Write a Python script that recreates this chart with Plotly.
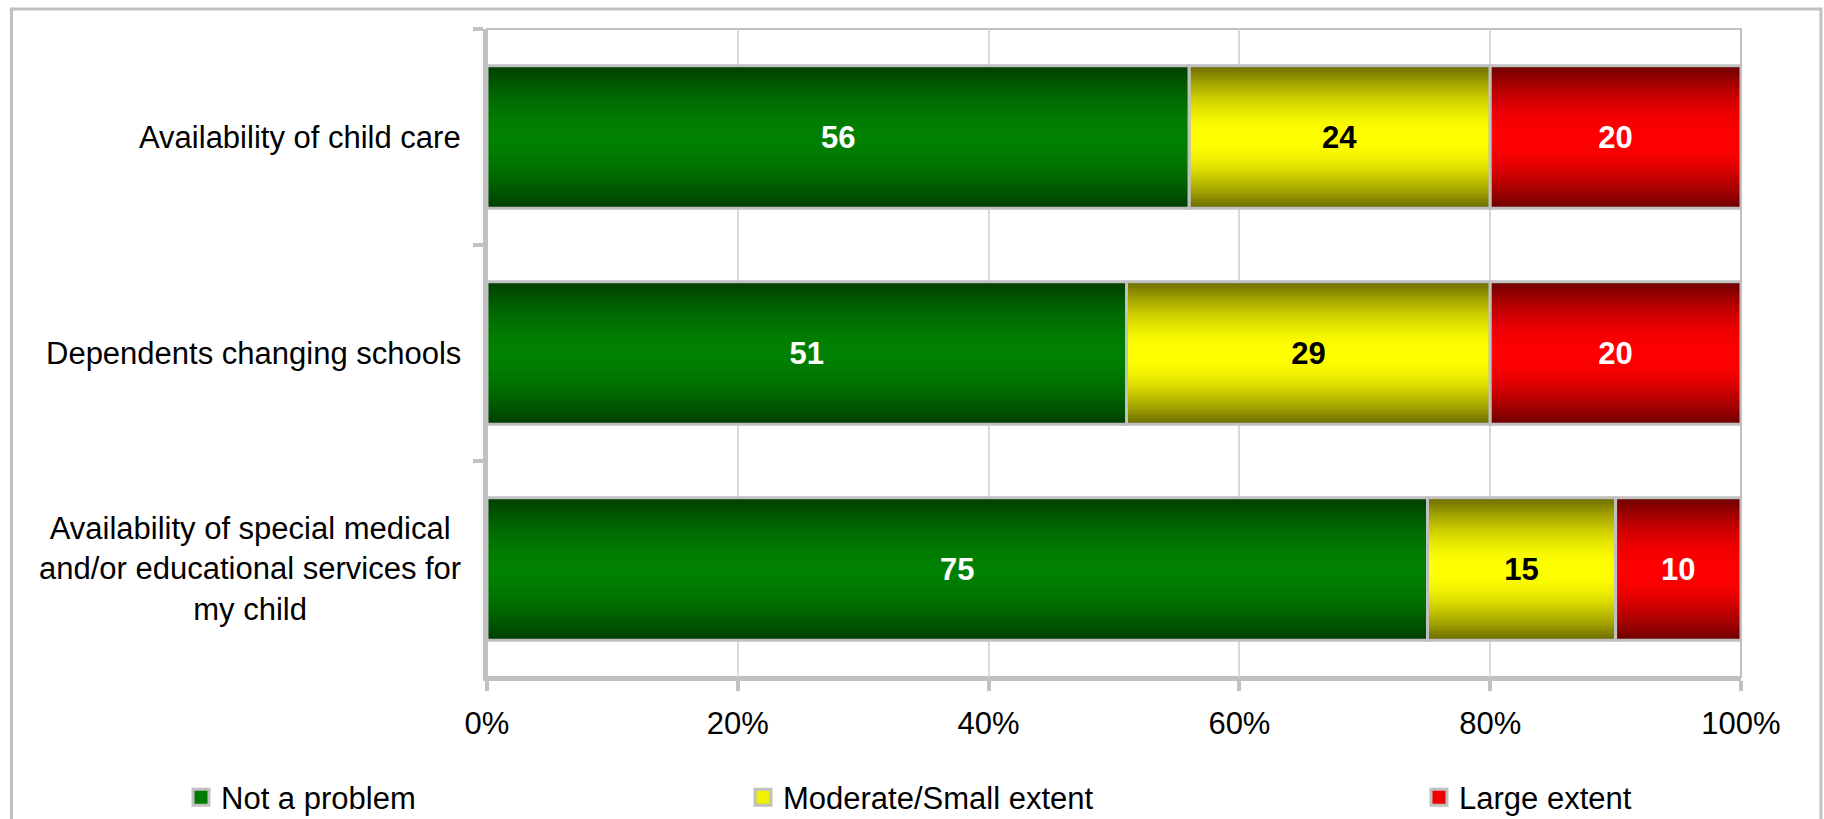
import math
import plotly.graph_objects as go

# ---- data ----
categories = [
    "Availability of child care",
    "Dependents changing schools",
    "Availability of special medical and/or educational services for my child",
]
category_labels = [
    "Availability of child care",
    "Dependents changing schools",
    "Availability of special medical<br>and/or educational services for<br>my child",
]
series_names = ["Not a problem", "Moderate/Small extent", "Large extent"]
not_a_problem = [56, 51, 75]
moderate_small = [24, 29, 15]
large_extent = [20, 20, 10]
x_ticks = [0, 20, 40, 60, 80, 100]
x_tick_labels = ["0%", "20%", "40%", "60%", "80%", "100%"]

# ---- styles ----
W, H = 1824, 819
FONT = "Liberation Sans, Arial, sans-serif"
GREY = "#c0c0c0"
FS = 31
bar_width = 0.66
n_layers = 24

styles = [
    # edge rgb, center rgb, label color, legend color
    ((0, 62, 0), (0, 128, 0), "white", "#007a00"),
    ((107, 107, 0), (255, 255, 0), "black", "#f0f000"),
    ((107, 0, 0), (255, 0, 0), "white", "#f00000"),
]
series_values = [not_a_problem, moderate_small, large_extent]
legend_ids = ["legend", "legend2", "legend3"]

fig = go.Figure()
bases = [0] * len(categories)
for name, vals, (edge, center, tcol, lcol), lid in zip(series_names, series_values, styles, legend_ids):
    for k in range(n_layers):
        t = (k + 0.5) / n_layers
        f = math.sin(t * math.pi / 2)
        col = "rgb(%d,%d,%d)" % tuple(round(e + (c - e) * f) for e, c in zip(edge, center))
        fig.add_trace(go.Bar(
            y=categories, x=vals, base=bases, orientation="h",
            width=bar_width * (1 - k / n_layers),
            marker=dict(color=col, line=dict(width=0)),
            showlegend=False, hoverinfo="skip",
        ))
    fig.add_trace(go.Bar(
        y=categories, x=vals, base=bases, orientation="h", width=bar_width,
        marker=dict(color="rgba(0,0,0,0)", line=dict(color=GREY, width=3)),
        text=[str(v) for v in vals], textposition="inside", insidetextanchor="middle",
        textangle=0, constraintext="none",
        insidetextfont=dict(color=tcol, size=FS, family=FONT, weight="bold"),
        showlegend=False, name=name,
    ))
    fig.add_trace(go.Scatter(
        x=[None], y=[None], mode="markers", name=name, legend=lid,
        marker=dict(symbol="square", size=16, color=lcol, line=dict(color=GREY, width=3)),
        showlegend=True,
    ))
    bases = [b + v for b, v in zip(bases, vals)]

annotations = [
    dict(text=lab, x=463 / W, xref="paper", xanchor="right", y=cat, yref="y",
         yanchor="middle", align="center", showarrow=False,
         font=dict(size=FS, family=FONT, color="black"))
    for cat, lab in zip(categories, category_labels)
]

legend_common = dict(orientation="h", yanchor="middle", y=1 - 797.5 / H, xanchor="left",
                     bgcolor="rgba(0,0,0,0)", font=dict(size=FS, family=FONT, color="black"),
                     itemsizing="trace")

fig.update_layout(
    width=W, height=H,
    margin=dict(l=0, r=0, t=0, b=0, autoexpand=False),
    paper_bgcolor="white", plot_bgcolor="white",
    barmode="overlay",
    font=dict(family=FONT, size=FS, color="black"),
    xaxis=dict(
        domain=[487 / W, 1741 / W], range=[0, 100],
        tickmode="array", tickvals=x_ticks, ticktext=x_tick_labels,
        showgrid=True, gridcolor="#d9d9d9", gridwidth=2, zeroline=False,
        showline=True, linecolor=GREY, linewidth=4,
        ticks="outside", ticklen=10, tickwidth=4, tickcolor=GREY,
        ticklabelstandoff=6,
        tickfont=dict(size=FS, family=FONT, color="black"),
        automargin=False,
    ),
    yaxis=dict(
        domain=[1 - 677 / H, 1 - 29 / H], type="category",
        categoryorder="array", categoryarray=categories, range=[2.5, -0.5],
        showline=True, linecolor=GREY, linewidth=4,
        ticks="outside", tickson="boundaries", ticklen=10, tickwidth=4, tickcolor=GREY,
        showticklabels=False, showgrid=False, zeroline=False,
        automargin=False,
    ),
    annotations=annotations,
    shapes=[
        dict(type="rect", xref="paper", yref="paper", x0=11.5 / W, x1=1821 / W,
             y0=-0.1, y1=1 - 9 / H, line=dict(color=GREY, width=3), layer="below"),
        dict(type="rect", xref="x domain", yref="y domain", x0=0, x1=1, y0=0, y1=1,
             line=dict(color=GREY, width=2), layer="below"),
    ],
    legend=dict(x=181 / W, **legend_common),
    legend2=dict(x=743 / W, **legend_common),
    legend3=dict(x=1419 / W, **legend_common),
    showlegend=True,
)

fig.write_html("out.html", config={"displayModeBar": False},
               post_script="document.body.style.margin='0';document.body.style.overflow='hidden';")
